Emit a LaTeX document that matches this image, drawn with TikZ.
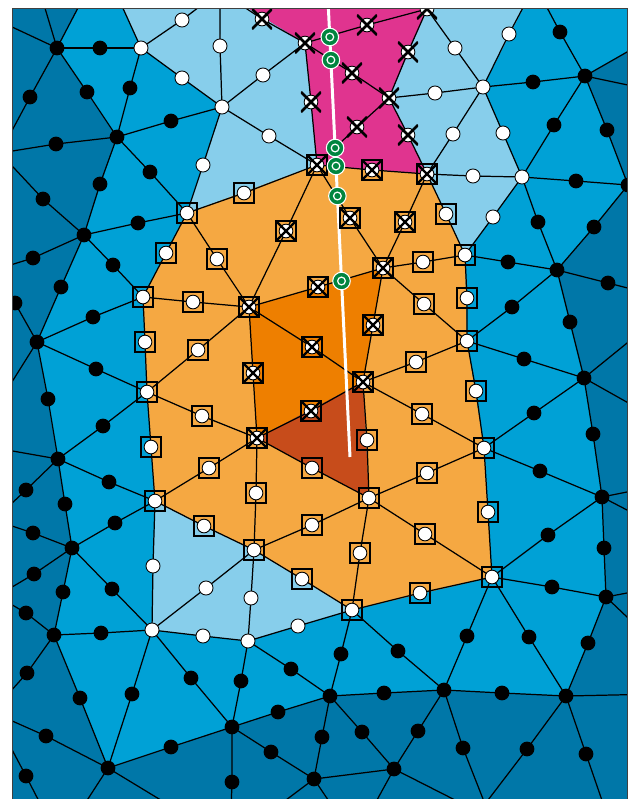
\documentclass[tikz,border=0pt]{standalone}
\usepackage{xcolor}
\usepackage{tikz}

\definecolor{meshdark}{RGB}{0,119,168}
\definecolor{meshmid}{RGB}{0,161,214}
\definecolor{meshlight}{RGB}{135,206,235}
\definecolor{zoneorange}{RGB}{245,168,66}
\definecolor{zonedeep}{RGB}{238,127,0}
\definecolor{zonetip}{RGB}{199,76,27}
\definecolor{zonecut}{RGB}{224,52,143}
\definecolor{crossgreen}{RGB}{0,133,63}

\begin{document}
\begin{tikzpicture}[
	x=0.02cm, y=-0.02cm,
	edge/.style={line width=0.7pt},
	bdot/.style={circle, fill=black, inner sep=0pt, minimum size=8.4pt},
	wdot/.style={circle, fill=white, draw=black, line width=0.5pt, inner sep=0pt, minimum size=8pt},
	sdot/.style={
		rectangle, draw=black, line width=1.1pt, inner sep=0pt, minimum size=11pt,
		path picture={\filldraw[fill=white, draw=black, line width=0.5pt] (path picture bounding box.center) circle (3.9pt);}
	},
	qdot/.style={
		sdot,
		path picture={
			\filldraw[fill=white, draw=black, line width=0.5pt] (path picture bounding box.center) circle (3.9pt);
			\draw[line width=1.4pt] (path picture bounding box.south west) -- (path picture bounding box.north east)
				(path picture bounding box.north west) -- (path picture bounding box.south east);
		}
	},
	xdot/.style={
		rectangle, inner sep=0pt, minimum size=11.4pt,
		path picture={
			\filldraw[fill=white, draw=black, line width=0.5pt] (path picture bounding box.center) circle (3.9pt);
			\draw[line width=1.5pt] (path picture bounding box.south west) -- (path picture bounding box.north east)
				(path picture bounding box.north west) -- (path picture bounding box.south east);
		}
	},
	gdot/.style={
		circle, fill=crossgreen, draw=white, line width=0.6pt, inner sep=0pt, minimum size=10pt,
		path picture={\draw[white, line width=0.7pt] (path picture bounding box.center) circle (2.2pt);}
	}
	]
	
	\useasboundingbox (0,0) rectangle (628,799);
	
	% mesh vertices (inside and just outside the window)
	\foreach \v/\x/\y in {a1/57/48, a2/141/48, a3/222/107, a4/117/137, a5/84/235, a6/187/213,
		a7/305/43, a8/317/165, a9/427/9, a10/389/98, a11/427/174, a12/483/87, a13/585/76,
		a14/522/177, a15/465/255, a16/383/268, a17/249/307, a18/143/297, a19/37/342,
		a20/147/392, a21/58/459, a22/257/438, a23/363/382, a24/467/341, a25/557/270,
		a26/584/378, a27/484/448, a28/369/498, a29/155/501, a30/72/548, a31/254/550,
		a32/352/610, a33/492/577, a34/602/497, a35/606/597, a36/152/630, a37/248/641,
		a38/54/635, a39/330/696, a40/444/690, a41/566/696, a42/232/727, a43/108/768,
		a44/314/779, a45/394/769, a46/628/185,
		oT0/-20/12, oT1/35/-25, oT2/102/-38, o1/220/-9, o2/535/-15, oR0/690/16, oR1/680/96,
		oR2/659/296, oR3/648/326, oR4/648/414, oR5/652/487, oR6/652/523, oR7/648/589,
		oR8/648/637, oR9/660/694, oB0/60/842, oB1/485/804, oB2/606/812, oB3/230/842,
		oB4/520/833, oB5/355/840, oL1/0/153, oL2/-12/272, oL3/-27/444, oL4/-6/520,
		oL5/-3/596, oL6/-8/712}
		\coordinate (\v) at (\x,\y);
	
	\coordinate (crack start) at (328,0);
	\coordinate (crack end) at (350,457);
	
	% edges: end/end/mid node x/mid node y/marker
	\def\edgelist{a1/a2/100/48/bdot, a1/a4/87/92/bdot, a2/a4/130/88/bdot, a2/a3/182/78/wdot,
		a2/o1/182/20/wdot, a3/o1/220/46/wdot, a3/a7/263/75/wdot, a3/a8/269/136/wdot,
		a3/a4/171/121/bdot, a3/a6/203/165/wdot, a4/a5/100/184/bdot, a4/a6/150/172/bdot,
		a5/a6/138/223/bdot, a5/a18/113/265/bdot, a6/a18/166/253/sdot, a6/a17/217/259/sdot,
		a6/a8/244/193/sdot, a8/a17/286/231/qdot, a7/o1/262/19/xdot, a7/a9/367/25/xdot,
		a7/a10/352/73/xdot, a7/a8/311/102/xdot, a9/a10/408/52/xdot, a10/a8/357/127/xdot,
		a10/a11/408/135/xdot, a8/a11/372/170/qdot, a9/a12/455/48/wdot, a10/a12/435/93/wdot,
		a12/a11/453/134/wdot, a12/a14/503/133/wdot, a11/a14/473/176/wdot, a11/a15/446/214/sdot,
		a14/a15/493/217/wdot, a12/o2/509/34/wdot, a12/a13/533/82/bdot, a13/o2/560/32/bdot,
		a13/a14/554/125/bdot, a13/a46/607/130/bdot, a14/a46/576/181/bdot, a14/a25/538/222/bdot,
		a46/a25/594/227/bdot, a15/a25/508/262/bdot, a15/a16/423/262/sdot, a11/a16/405/222/qdot,
		a8/a16/350/218/qdot, a16/a17/318/287/qdot, a15/a24/467/298/sdot, a16/a24/424/304/sdot,
		a16/a23/373/325/qdot, a17/a23/312/347/qdot, a17/a18/193/302/sdot, a18/a20/145/342/sdot,
		a17/a20/198/350/sdot, a17/a22/253/373/qdot, a18/a19/93/317/bdot, a5/a19/61/287/bdot,
		a19/a20/96/369/bdot, a19/a21/48/399/bdot, a20/a21/103/426/bdot, a20/a22/202/416/sdot,
		a20/a29/151/447/sdot, a21/a29/109/482/bdot, a21/a30/65/504/bdot, a29/a22/209/468/sdot,
		a22/a23/311/411/qdot, a22/a28/312/468/sdot, a22/a31/256/493/sdot, a23/a28/367/440/sdot,
		a23/a24/416/362/sdot, a23/a27/422/414/sdot, a24/a27/476/391/sdot, a24/a25/512/307/bdot,
		a24/a26/524/359/bdot, a25/a26/570/322/bdot, a26/a27/534/413/bdot, a26/a34/593/434/bdot,
		a27/a34/540/471/bdot, a27/a33/488/512/sdot, a27/a28/427/473/sdot, a28/a31/312/525/sdot,
		a28/a33/425/534/sdot, a28/a32/360/553/sdot, a29/a31/204/526/sdot, a29/a30/115/523/bdot,
		a29/a36/153/566/wdot, a30/a36/112/589/bdot, a30/a38/63/592/bdot, a31/a36/206/588/wdot,
		a31/a37/251/598/wdot, a31/a32/302/579/sdot, a32/a33/420/593/sdot, a33/a34/548/535/bdot,
		a34/a35/604/548/bdot, a33/a35/552/587/bdot, a33/a40/467/636/bdot, a33/a41/529/637/bdot,
		a35/a41/588/643/bdot, a32/a37/298/626/wdot, a32/a39/341/654/bdot, a32/a40/398/651/bdot,
		a36/a37/203/636/wdot, a36/a38/101/633/bdot, a36/a43/132/694/bdot, a36/a42/191/678/bdot,
		a37/a42/241/681/bdot, a37/a39/291/669/bdot, a38/a43/80/698/bdot, a42/a43/171/747/bdot,
		a42/a39/278/712/bdot, a39/a40/384/693/bdot, a40/a41/502/693/bdot, a39/a44/322/737/bdot,
		a39/a45/362/732/bdot, a40/a45/418/731/bdot, a42/a44/271/752/bdot,
		a1/oL1/30/97/bdot, a4/oL1/56/144/bdot, a5/oL1/43/199/bdot, a5/oL2/33/258/bdot,
		a19/oL2/15/303/bdot, a21/oL4/26/490/bdot, a30/oL4/33/533/bdot, a30/oL5/34/574/bdot,
		a38/oL5/26/613/bdot, a38/oL6/27/673/bdot, a43/oL6/46/736/bdot, oL6/oB0/26/776/bdot,
		a42/oB3/232/782/bdot, a40/oB1/463/748/bdot, a41/oB1/527/749/bdot, a41/oB2/586/754/bdot,
		a25/oR2/608/283/bdot}
	
	\begin{scope}
		\clip (12,8) rectangle (627,799);
		\fill[meshdark] (12,8) rectangle (627,799);
		
		% element colours
		\foreach \p/\q/\r in {a1/oT2/a2, a1/a2/a4, a2/a3/a4, a3/a4/a6, a4/a5/a6, a5/a6/a18,
			a5/a18/a19, a18/a19/a20, a19/a20/a21, a20/a21/a29, a21/a29/a30, a29/a30/a36,
			a30/a36/a38, a36/a38/a43, a36/a42/a43, a36/a37/a42, a37/a39/a42, a32/a37/a39,
			a32/a39/a40, a32/a33/a40, a33/a40/a41, a33/a35/a41, a33/a34/a35, a27/a33/a34,
			a26/a27/a34, a24/a26/a27, a24/a25/a26, a15/a24/a25, a14/a15/a25, a14/a25/a46,
			a13/a14/a46, a12/a13/a14, a12/o2/a13, a13/o2/oR0}
			\fill[meshmid] (\p) -- (\q) -- (\r) -- cycle;
		\foreach \p/\q/\r in {a2/oT2/o1, a2/o1/a3, a3/o1/a7, a3/a7/a8, a3/a8/a6, a9/o2/a12,
			a9/a12/a10, a10/a12/a11, a11/a12/a14, a11/a14/a15, a29/a31/a36, a31/a37/a36,
			a31/a32/a37}
			\fill[meshlight] (\p) -- (\q) -- (\r) -- cycle;
		\foreach \p/\q/\r in {o1/a7/a9, a7/a9/a10, a7/a10/a8, a8/a10/a11}
			\fill[zonecut] (\p) -- (\q) -- (\r) -- cycle;
		\foreach \p/\q/\r in {a6/a8/a17, a6/a17/a18, a8/a16/a17, a8/a11/a16, a11/a15/a16,
			a15/a24/a16, a16/a24/a23, a18/a17/a20, a20/a17/a22, a20/a22/a29, a29/a22/a31,
			a22/a28/a31, a23/a24/a27, a23/a27/a28, a28/a27/a33, a28/a33/a32, a31/a28/a32}
			\fill[zoneorange] (\p) -- (\q) -- (\r) -- cycle;
		\foreach \p/\q/\r in {a17/a16/a23, a17/a23/a22}
			\fill[zonedeep] (\p) -- (\q) -- (\r) -- cycle;
		\fill[zonetip] (a22) -- (a23) -- (a28) -- cycle;
		
		% element edges
		\foreach \a/\b/\x/\y/\t [count=\i] in \edgelist {
			\coordinate (m\i) at (\x,\y);
			\draw[edge] (\a) -- (m\i) -- (\b);
		}
		\foreach \a/\b in {a1/oT0, a1/oT1, a1/oT2, a2/oT2, a13/oR0, a13/oR1, a26/oR3, a26/oR4,
			a34/oR5, a34/oR6, a35/oR7, a35/oR8, a41/oR9, a43/oB0, a43/oB3, a44/oB3, a44/oB5,
			a45/oB5, a45/oB4, a19/oL3, a21/oL3, a44/a45, a46/oR2}
			\draw[edge] (\a) -- (\b);
		
		% crack
		\draw[white, line width=1.7pt] (crack start) -- (crack end);
		
		% nodes
		\foreach \a/\b/\x/\y/\t [count=\i] in \edgelist
			\node[\t] (n\i) at (m\i) {};
		\foreach \v/\t in {a1/bdot, a2/wdot, a3/wdot, a4/bdot, a5/bdot, a6/sdot, a7/xdot,
			a8/qdot, a9/xdot, a10/xdot, a11/qdot, a12/wdot, a13/bdot, a14/wdot, a15/sdot,
			a16/qdot, a17/qdot, a18/sdot, a19/bdot, a20/sdot, a21/bdot, a22/qdot, a23/qdot,
			a24/sdot, a25/bdot, a26/bdot, a27/sdot, a28/sdot, a29/sdot, a30/bdot, a31/sdot,
			a32/sdot, a33/sdot, a34/bdot, a35/bdot, a36/wdot, a37/wdot, a38/bdot, a39/bdot,
			a40/bdot, a41/bdot, a42/bdot, a43/bdot, a44/bdot, a45/bdot, a46/bdot}
			\node[\t] (n\v) at (\v) {};
		
		% crack crossings
		\foreach \g/\x/\y in {g1/329.8/37, g2/330.9/60, g3/335.1/148, g4/336/166, g5/337.4/196, g6/341.5/281}
			\node[gdot] (\g) at (\x,\y) {};
	\end{scope}
	
	\draw[black!75, line width=0.5pt] (12,8) rectangle (627,805);
	
\end{tikzpicture}
\end{document}
